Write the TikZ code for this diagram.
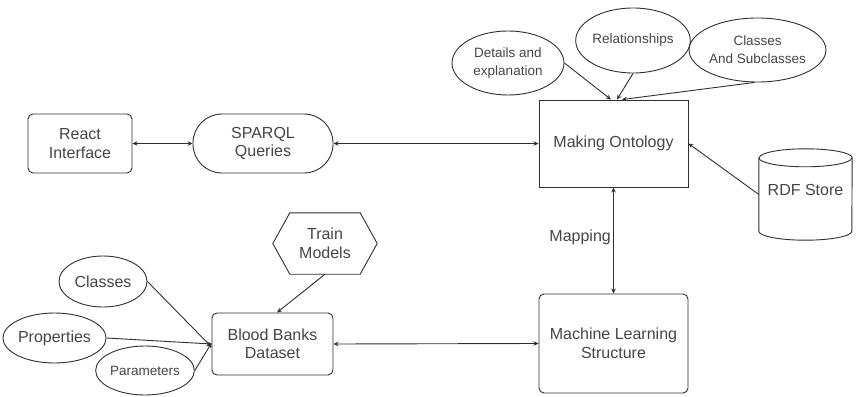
\documentclass[tikz,border=0pt]{standalone}
\usepackage{fontspec}
\setmainfont{Liberation Sans}
\usetikzlibrary{shapes.geometric,arrows.meta}
\definecolor{ln}{HTML}{303030}
\definecolor{tx}{HTML}{454545}
\begin{document}
\begin{tikzpicture}[x=1pt,y=-1pt,
  every node/.style={font=\fontsize{16}{18.5}\selectfont, text=tx, align=center, inner sep=0pt},
  small/.style={font=\fontsize{13.5}{18}\selectfont},
  sz/.style 2 args={minimum width=#1, minimum height=#2},
  rbox/.style={draw=ln, line width=0.9pt, rounded corners=5pt},
  sbox/.style={draw=ln, line width=0.9pt},
  ell/.style={draw=ln, line width=0.9pt, ellipse},
  conn/.style={draw=ln, line width=0.9pt, -{Stealth[length=5pt,width=4.5pt]}},
  biconn/.style={draw=ln, line width=0.9pt, {Stealth[length=5pt,width=4.5pt]}-{Stealth[length=5pt,width=4.5pt]}}
]
\useasboundingbox (0,0) rectangle (856,396);

% top row
\node[rbox, sz={104}{59}] (react) at (80,143.5) {React\\Interface};
\node[sbox, rounded corners=29pt, sz={140}{59}] (sparql) at (263,143.5) {SPARQL\\Queries};
\node[sbox, sz={149}{87}] (onto) at (613.5,143.5) {Making Ontology};

\node[ell, small, sz={112}{64}] (details) at (508,63) {Details and\\explanation};
\node[ell, small, sz={110}{65}] (rel) at (633,40.5) {Relationships};
\node[ell, small, sz={111}{64}] (cls) at (757.5,50) {Classes\\And Subclasses};

% RDF store cylinder
\node[sz={93}{55}] (rdf) at (805.5,194.5) {};
\draw[ln, line width=0.9pt]
  ([yshift=9]rdf.north west) -- ([yshift=-9]rdf.south west)
  arc[start angle=180, end angle=360, x radius=46.5, y radius=-9]
  -- ([yshift=9]rdf.north east)
  arc[start angle=0, end angle=180, x radius=46.5, y radius=-9];
\draw[ln, line width=0.9pt] ([yshift=9]rdf.north west)
  arc[start angle=180, end angle=360, x radius=46.5, y radius=-9];
\node at ([yshift=5]rdf.center) {RDF Store};

% bottom row
\node[sz={104}{61}] (train) at (325,243.5) {Train\\Models};
\draw[ln, line width=0.9pt]
  (train.west) -- ([xshift=17]train.north west) -- ([xshift=-17]train.north east)
  -- (train.east) -- ([xshift=-17]train.south east) -- ([xshift=17]train.south west) -- cycle;

\node[rbox, sz={121}{62}] (blood) at (272.5,344) {Blood Banks\\Dataset};
\node[rbox, sz={149}{99}] (ml) at (613.5,343.5) {Machine Learning\\Structure};

\node[ell, sz={88}{51}] (classes) at (103,281.5) {Classes};
\node[ell, sz={87}{50}] (props) at (54.5,338) {Properties};
\node[ell, small, sz={88}{49}] (params) at (145,370.5) {Parameters};

\node[anchor=east] (mapping) at (611,237) {Mapping};

% connectors
\draw[biconn] (react.east) -- (sparql.west);
\draw[biconn] (sparql.east) -- (onto.west);
\draw[conn] (details.east) -- ([xshift=-2.5]onto.north);
\draw[conn] (rel.south) -- ([xshift=3.5]onto.north);
\draw[conn] (cls.-95) -- ([xshift=8.5]onto.north);
\draw[conn] (rdf.west) -- (onto.east);
\draw[biconn] (onto.south) -- (ml.north);
\draw[biconn] (blood.east) -- (ml.west);
\draw[conn] (train.south) -- ([xshift=4.5]blood.north);
\draw[conn] (classes.east) -- ([yshift=-3]blood.west);
\draw[conn] (props.east) -- (blood.west);
\draw[conn] (params.east) -- ([yshift=1]blood.west);
\end{tikzpicture}
\end{document}
